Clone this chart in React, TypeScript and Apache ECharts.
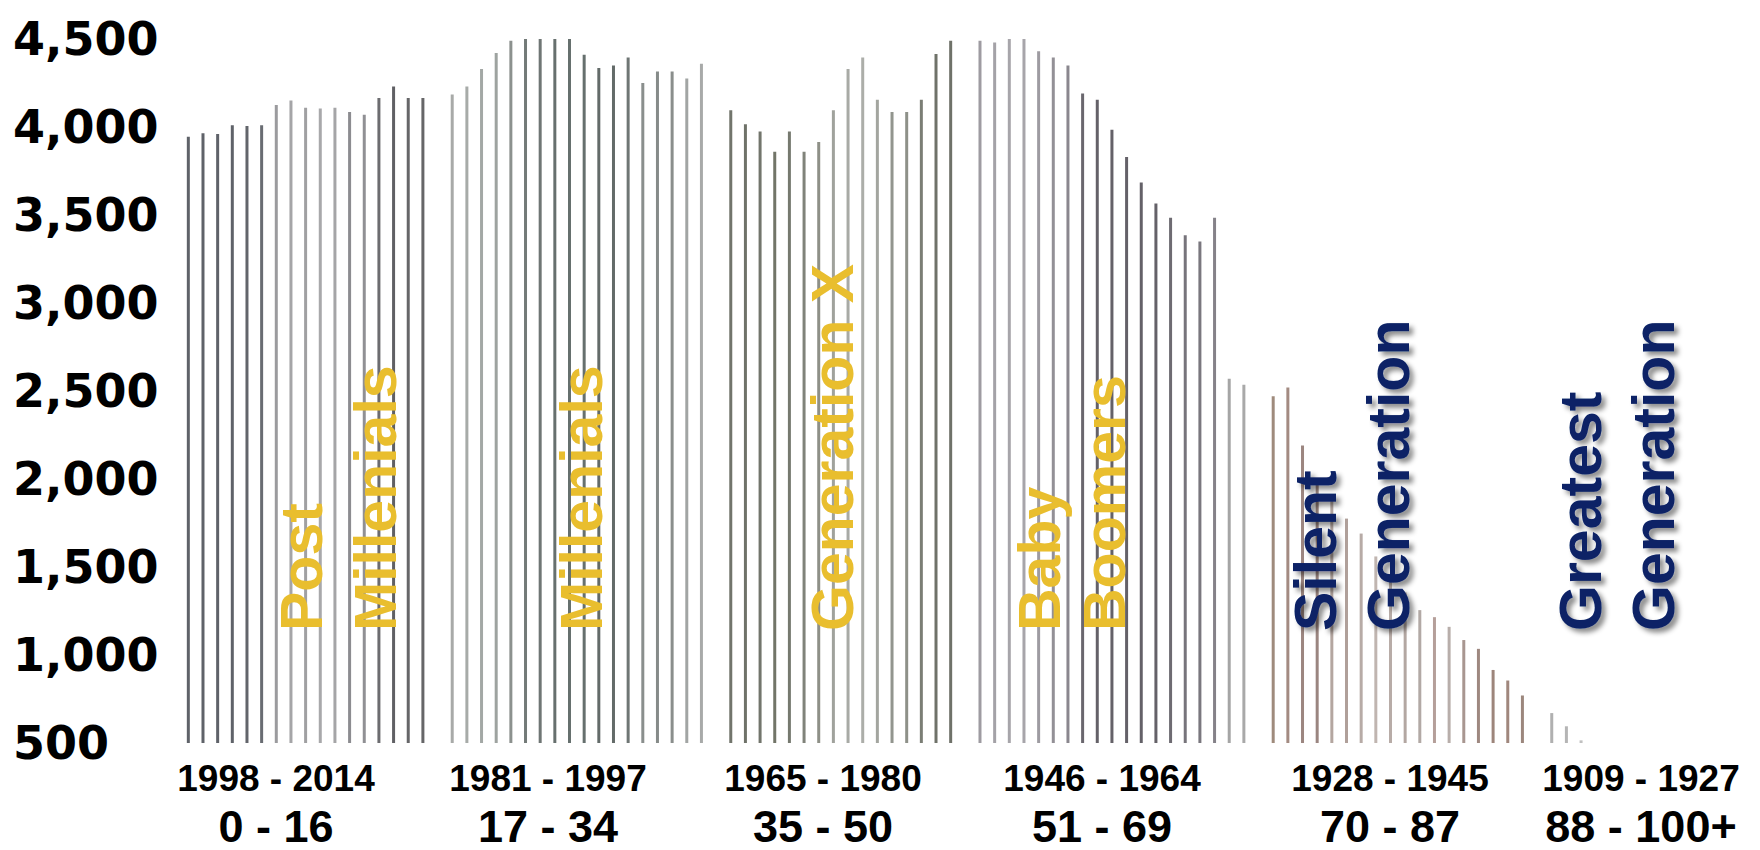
import React, { useEffect, useRef } from "react";
import * as echarts from "echarts";

// ---------- DATA ----------
const groupStartAges = [0, 17, 35, 51, 70, 88];
const postMillennials = [3945, 3965, 3960, 4010, 4005, 4010, 4125, 4150, 4110, 4105, 4110, 4085, 4070, 4165, 4230, 4165, 4165];
const millennials = [4185, 4230, 4330, 4420, 4490, 4500, 4500, 4500, 4500, 4410, 4335, 4350, 4395, 4250, 4315, 4315, 4275, 4360];
const generationX = [4095, 4015, 3975, 3860, 3975, 3860, 3915, 4095, 4330, 4395, 4155, 4085, 4085, 4155, 4415, 4490];
const babyBoomers = [4490, 4480, 4500, 4500, 4430, 4395, 4350, 4190, 4155, 3985, 3830, 3685, 3565, 3485, 3385, 3350, 3485, 2570, 2535];
const silentGeneration = [2470, 2520, 2190, 2000, 1890, 1775, 1690, 1560, 1460, 1355, 1255, 1215, 1160, 1085, 1035, 915, 855, 770];
const greatestGeneration = [670, 595, 515, 455, 400, 340, 280, 225, 180, 140, 105, 75, 90];
const birthYearLabels = ["1998 - 2014", "1981 - 1997", "1965 - 1980", "1946 - 1964", "1928 - 1945", "1909 - 1927"];
const ageRangeLabels = ["0 - 16", "17 - 34", "35 - 50", "51 - 69", "70 - 87", "88 - 100+"];
const generationNames = [["Post", "Millenials"], ["Millenials"], ["Generation X"], ["Baby", "Boomers"], ["Silent", "Generation"], ["Greatest", "Generation"]];
const yMin = 500;
const yMax = 4500;
const yInterval = 500;

// ---------- STYLE ----------
const groupColors: string[][] = [
  ["#5f6269", "#5f6269", "#5f6269", "#5f6269", "#62656b", "#696c72", "#9b9b9e", "#a5a5a7", "#a0a0a2", "#a8a8aa", "#a5a5a7", "#8c8c90", "#909094", "#6c6c70", "#606064", "#666668", "#666668"],
  ["#a8aaa8", "#a7aba8", "#a3a8a5", "#9ea3a0", "#8c918e", "#737a78", "#6f7674", "#67706e", "#66706e", "#66706e", "#636b69", "#636b69", "#6f7674", "#8a8f8d", "#868b89", "#8a8e8c", "#a2a5a4", "#a8aaa9"],
  ["#72756c", "#6f7269", "#72756c", "#727568", "#76796f", "#80837a", "#8e9087", "#a0a29c", "#a8aaa5", "#acaea9", "#a3a59f", "#92958e", "#8e9189", "#7b7e75", "#6f7269", "#6f7269"],
  ["#9e9ba1", "#a4a2a7", "#a7a5aa", "#a7a5aa", "#9e9ba1", "#939096", "#8a878e", "#6a676e", "#646168", "#646168", "#646168", "#646168", "#646168", "#6e6b72", "#77747b", "#7a777e", "#858289", "#a5a5a5", "#a9a9a9"],
  ["#9f8b7c", "#a38b82", "#9c8680", "#9a8580", "#b4a6a0", "#b0a09a", "#b7aba6", "#c0b5b0", "#b8aca7", "#b3a7a2", "#b2a9a5", "#b59f9a", "#b8aeaa", "#a89690", "#9e8880", "#9d857b", "#a0877d", "#9c877d"],
  ["#b0b0b0", "#b5b5b5", "#c0c0c0", "#c0c0c0", "#c0c0c0", "#c0c0c0", "#c0c0c0", "#c0c0c0", "#c0c0c0", "#c0c0c0", "#c0c0c0", "#c0c0c0", "#c0c0c0"],
];
const yellow = "#e9be2e";
const navy = "#0c2366";
const generationColors = [yellow, yellow, yellow, yellow, navy, navy];
const generationTextX = [[302, 376], [582], [833], [1040, 1105], [1316, 1389], [1581, 1654]];
const bottomLabelX = [276, 548, 823, 1102, 1390, 1641];

export default function App() {
  const ref = useRef<HTMLDivElement>(null);

  useEffect(() => {
    if (!ref.current) return;
    const chart = echarts.init(ref.current, undefined, { renderer: "svg" });

    const groups = [postMillennials, millennials, generationX, babyBoomers, silentGeneration, greatestGeneration];
    const categories: string[] = [];
    const seriesData: any[] = [];
    groups.forEach((vals, g) => {
      if (g > 0) {
        categories.push("gap-" + g);
        seriesData.push("-");
      }
      vals.forEach((v, i) => {
        const age = groupStartAges[g] + i;
        categories.push(age >= 100 ? "100+" : String(age));
        seriesData.push({ value: v, itemStyle: { color: groupColors[g][i] } });
      });
    });

    const graphics: any[] = [];
    birthYearLabels.forEach((t, i) => {
      graphics.push({
        type: "text",
        x: bottomLabelX[i],
        y: 778,
        z: 100,
        style: {
          text: t,
          fill: "#000",
          fontSize: 37,
          lineHeight: 38,
          fontWeight: "bold",
          fontFamily: "Liberation Sans, Arial, sans-serif",
          align: "center",
          verticalAlign: "middle",
          textAlign: "center",
          textVerticalAlign: "middle",
        },
      });
    });
    ageRangeLabels.forEach((t, i) => {
      graphics.push({
        type: "text",
        x: bottomLabelX[i],
        y: 826,
        z: 100,
        style: {
          text: t,
          fill: "#000",
          fontSize: 45,
          lineHeight: 40,
          fontWeight: "bold",
          fontFamily: "Liberation Sans, Arial, sans-serif",
          align: "center",
          verticalAlign: "middle",
          textAlign: "center",
          textVerticalAlign: "middle",
        },
      });
    });
    generationNames.forEach((words, g) => {
      words.forEach((w, k) => {
        const isNavy = generationColors[g] === navy;
        graphics.push({
          type: "text",
          x: generationTextX[g][k],
          y: 631,
          rotation: Math.PI / 2,
          z: 100,
          style: {
            text: w,
            fill: generationColors[g],
            fontSize: 59,
            fontWeight: "bold",
            fontFamily: "Liberation Sans, Arial, sans-serif",
            align: "left",
            verticalAlign: "middle",
            textAlign: "left",
            textVerticalAlign: "middle",
            ...(isNavy
              ? {
                  textShadowColor: "rgba(0,0,0,0.45)",
                  textShadowBlur: 5,
                  textShadowOffsetX: -4,
                  textShadowOffsetY: 4,
                }
              : {}),
          },
        });
      });
    });

    chart.setOption({
      animation: false,
      backgroundColor: "#ffffff",
      grid: { left: 181, right: 25, top: 39, bottom: 107, containLabel: false },
      xAxis: {
        type: "category",
        data: categories,
        boundaryGap: true,
        show: false,
      },
      yAxis: {
        type: "value",
        min: yMin,
        max: yMax,
        interval: yInterval,
        axisLine: { show: false },
        axisTick: { show: false },
        splitLine: { show: false },
        axisLabel: {
          align: "left",
          margin: 168,
          color: "#000",
          fontSize: 46,
          fontWeight: "bold",
          fontFamily: "DejaVu Sans, sans-serif",
          formatter: (v: number) => v.toLocaleString("en-US"),
        },
      },
      series: [
        {
          type: "bar",
          data: seriesData,
          barWidth: 3,
          clip: true,
        },
      ],
      graphic: graphics,
    });

    return () => chart.dispose();
  }, []);

  return (
    <div
      ref={ref}
      style={{ position: "absolute", left: 0, top: 0, width: 1760, height: 850, background: "#fff" }}
    />
  );
}
